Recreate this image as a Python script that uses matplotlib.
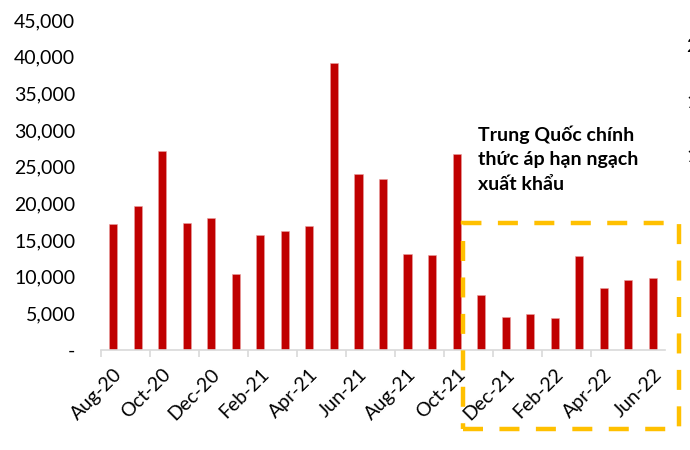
import matplotlib
matplotlib.use('Agg')
import matplotlib.pyplot as plt
from matplotlib.patches import Rectangle
from matplotlib.ticker import FuncFormatter

plt.rcParams['font.family'] = ['Lato', 'DejaVu Sans']

# du lieu doc tu hinh
months = ['Aug-20', 'Sep-20', 'Oct-20', 'Nov-20', 'Dec-20', 'Jan-21', 'Feb-21', 'Mar-21',
          'Apr-21', 'May-21', 'Jun-21', 'Jul-21', 'Aug-21', 'Sep-21', 'Oct-21',
          'Nov-21', 'Dec-21', 'Jan-22', 'Feb-22', 'Mar-22', 'Apr-22', 'May-22', 'Jun-22']
values = [17180, 19640, 27100, 17270, 17950, 10300, 15680, 16230,
          16950, 39200, 23950, 23270, 13090, 13000, 26730,
          7550, 4450, 4900, 4400, 12800, 8450, 9500, 9770]
note = 'Trung Quốc chính\nthức áp hạn ngạch\nxuất khẩu'
right_labels = ['2', '1', '1']

fig = plt.figure(figsize=(6.9, 4.5), dpi=100)
ax = fig.add_axes([101 / 690, 100 / 450, 564 / 690, 330 / 450])

x = list(range(len(months)))
ax.bar(x, values, width=0.33, color='#c00000', edgecolor='#e8a0a0', linewidth=0.4)

ax.set_xlim(-0.5, len(months) - 0.5)
ax.set_ylim(0, 45000)
ax.set_yticks(range(0, 45001, 5000))
ax.yaxis.set_major_formatter(FuncFormatter(lambda v, p: '-' if v == 0 else f'{int(v):,}'))
ax.tick_params(axis='y', length=0, pad=18.5, labelsize=14)

# vach chia giua cac cap thang, nhan o thang le
ax.set_xticks([i - 0.5 for i in range(0, len(months) - 1, 2)])
ax.set_xticklabels([])
ax.tick_params(axis='x', which='major', length=5, width=1.2, color='#d9d9d9')
ax.set_xticks(x[::2], minor=True)
ax.set_xticklabels(months[::2], minor=True, rotation=45, ha='right',
                   rotation_mode='anchor', fontsize=14)
ax.tick_params(axis='x', which='minor', length=0, pad=11)

for s in ['top', 'right', 'left']:
    ax.spines[s].set_visible(False)
ax.spines['bottom'].set_color('#d9d9d9')
ax.spines['bottom'].set_linewidth(1.2)

fig.text(478 / 690, 1 - 126 / 450, note, fontsize=14, fontweight='bold',
         va='top', ha='left', linespacing=1.5)

rect = Rectangle((463 / 690, 1 - 429 / 450), 216 / 690, 206 / 450,
                 transform=fig.transFigure, fill=False, edgecolor='#ffc000',
                 linewidth=3.2, linestyle=(0, (4.5, 3.7)), clip_on=False)
fig.add_artist(rect)

for lab, yy in zip(right_labels, [46, 102, 157]):
    fig.text(686 / 690, 1 - yy / 450, lab, fontsize=14, va='center', ha='left')

fig.savefig('out.png', dpi=100)
